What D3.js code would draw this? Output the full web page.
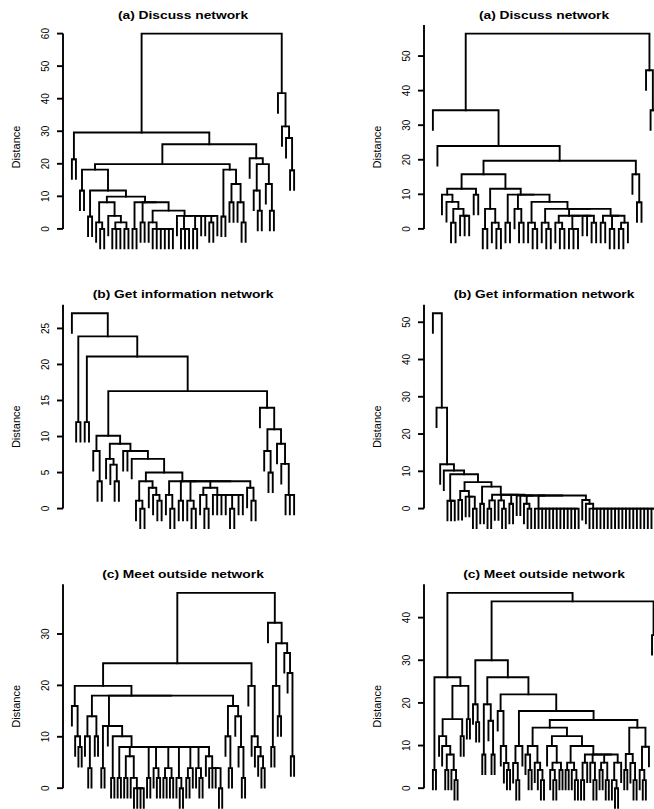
<!DOCTYPE html>
<html><head><meta charset="utf-8">
<script src="https://cdn.jsdelivr.net/npm/d3@7"></script>
<style>
body{margin:0;background:#fff}
svg{display:block}
text{font-family:"Liberation Sans",Arial,Helvetica,sans-serif;fill:#000}
</style>
</head><body>
<svg id="chart" width="654" height="809"></svg>
<script>
// ---- DATA: dendrograms as nested arrays [mergeHeight, child, child, ...]
// a child that is a number k stands for k single leaves
const titles = ["(a) Discuss network", "(a) Discuss network",
                "(b) Get information network", "(b) Get information network",
                "(c) Meet outside network", "(c) Meet outside network"];
const yLabel = "Distance";

const discussL_core = [9.9, [8.2, [2, 1, [0, 2]], [4, 1, [2, [0, 3], [0, 2]]]],
                            [8.2, [0, 2], [2, 2], [5.6, [2, 1, [0, 6]], [4, 1, [0, 3], [0, 2], 1, 1, [2, 2], 1]]]];
const discussL = [60,
  [29.6, [21.4, 2],
    [26,
      [19.9, [18.2, [11.8, 2], [11.8, [3.8, 2], discussL_core]],
             [18.2, [3.8, 2], [13.8, [8.2, 2], [8.2, 1, [2, 2]]]]],
      [21.7, 1, [19.9, [11.8, 1, [5.6, 2]], [13.8, 1, [5.6, 2]]]]]],
  [41.7, 1, [31.5, 1, [27.9, 1, [18, 2]]]]];

const discussR_A1 = [11.6, [9.9, 1, [7.8, 1, [5.8, [1.8, 2], [3.8, 3]]]], [9.9, 2]];
const discussR_C = [5.8, [1.8, 1, [0, 2]], [3.8, [1.8, 1, [0, 2]], [0, 3], 1, 1, [1.8, 2]],
                         [3.8, [1.8, 2], [0, 2], [1.8, [0, 2], 1]]];
const discussR_A2 = [11.6, [5.8, [0, 2], [1.8, 1, [0, 2]]],
                           [9.9, [1.8, 2], [5.8, 1, [1.8, 2]], [7.8, [1.8, 1, [0, 2]], discussR_C]]];
const discussR = [56.5,
  [34.3, 1, [24, 1, [19.7, [15.8, discussR_A1, discussR_A2], [15.8, 1, [7.7, 2]]]]],
  [45.9, 1, [34.3, 1, 1]]];

const infoL_L38 = [3.8, [1.1, 1, [0, 2]], [2.9, 1, [1.9, 1, [1.1, 2]]]];
const infoL_R38 = [3.8, [1.9, 1, [0, 2]], [1.1, 2], [1.1, 1, [0, 2]],
                        [2.9, [1.9, 1, [0, 2]], [1.9, 1, 1, 1, 1, [0, 2], 1, 1]], [2.9, 1, [1.1, 2]]];
const infoL = [27.1, 1, [23.9, [12, 2], [21.1, [12, 2], [16.3,
  [10.1, [8, 1, [3.8, 2]], [9, [6.9, 1, [6.1, 1, [3.8, 2]]], [8, 1, 1, [6.9, 1, [5, infoL_L38, infoL_R38]]]]],
  [14, 1, [11, [8, 1, [5, 2]], [9, 1, [6.2, 1, [1.9, 3]]]]]]]]];

const infoR_N35 = [3.5, 1, 1, [1.3, 1, [0, 2]], [0, 13], [2.3, 1, [1.3, 1, [0, 19]]]];
const infoR_T = [3.7, [2.2, [0, 2], 1], [2.2, 1, [0, 2]], [1.3, 2], infoR_N35];
const infoR = [52.4, 1, [27.1, 1, [11.9, 1, [10.2, 1, [9.2, [2.1, 3],
  [7.1, [4.7, [2.3, 2], [3.2, 1, 1, [0, 2]]], [5.9, [1.3, 2], infoR_T]]]]]]];

const meetL_N8 = [8, [2, 2], [6.2, [2, 2], [2, 1, [0, 4]]], [2, 2], [3.9, 1, [2, 2]], [3.9, [2, 2], [2, 2]],
                     [2, 1, [0, 2]], [3.9, [2, 2], 1], [3.9, 1, [2, 2]], [6.2, 1, [3.9, 1, 1, 1, [0, 2]]]];
const meetL = [38,
  [24.3,
    [19.9, [16, 1, [10.1, 1, [8, 2]]],
           [18, [14, [10.1, 1, [3.9, 2]], [10.1, 2]],
                [12.1, [3.9, 2], 1, [10.1, [2, 2], meetL_N8]],
                [16, [10.1, 1, [3.9, 2]], [14, 1, [8, 1, [2, 2]]]]]],
    [19.9, 1, [10.1, 1, [8, 1, [6.2, 1, [3.9, 2]]]]]],
  [32.2, 1, [28.2, [19.9, [8, 2], [14, 2]], [26.3, 1, [22.4, 1, [6.2, 2]]]]]];

const meetR_N14a = [14.2,
  [9.9, [7.9, 1, [4.3, 2]], [6, 1, [4.3, 1, [1.9, 2]]]],
  [12.2, [9.9, 1, [6, [4.3, 1, [1.9, 2]], [4.3, 2]]],
         [9.9, [6, [4.3, 2], [4.3, 1, [1.9, 2]]],
               [7.9, [6, [1.9, 2], 1], [6, 1, [1.9, 2]], [6, [4.3, 2], [1.9, 2]], [6, [1.9, 1, [0, 2]], 1]]]]];
const meetR_N14b = [14.2, [8, [4.3, 2], [5.9, 1, [1.9, 2]]], [9.7, [4.3, 1, [1.9, 2]], 1]];
const meetR = [45.8,
  [26, [4.3, 2], [24, [16.2, [12.2, 1, [9.9, 1, [7.9, [4.3, 2], [4.3, 1, [1.9, 2]]]]], [12.2, 2]], [16.2, 2]]],
  [43.8,
    [30, [19.7, 1, [15.5, 2]],
         [26, [19.7, [7.9, 2], [15.8, 1, [7.9, 2]]],
              [22, [18.1, 1, [9.9, 1, [5.9, 1, [4.3, 2]]]],
                   [18.1, [9.9, [5.9, 1, [1.9, 2]], 1], [16, meetR_N14a, meetR_N14b]]]]],
    [35.9, 1, 1]]];

const trees = [discussL, discussR, infoL, infoR, meetL, meetR];

// ---- LAYOUT
const colX = [63, 424], rowTop = [0, 279.7, 559.3];
const plotW = 240, plotTop = 25, plotBot = 257;
const svg = d3.select("#chart");

function build(arr) {
  const h = arr[0], items = [];
  arr.slice(1).forEach(c => {
    if (Array.isArray(c)) items.push(build(c));
    else for (let i = 0; i < c; i++) items.push({leaf: true});
  });
  function chain(list) {
    if (list.length === 1) return list[0];
    return {h, kids: [list[0], chain(list.slice(1))]};
  }
  return chain(items);
}

trees.forEach((arr, p) => {
  const root = build(arr);
  let n = 0;
  (function assign(node) {
    if (node.leaf) { node.i = ++n; return; }
    node.kids.forEach(assign);
    node.i = (node.kids[0].i + node.kids[1].i) / 2;
  })(root);
  const Hmax = root.h, hang = 0.1 * Hmax;
  const x0 = colX[p % 2], top = rowTop[Math.floor(p / 2)];
  const pad = 0.04 * (n - 1);
  const x = d3.scaleLinear().domain([1 - pad, n + pad]).range([x0, x0 + plotW]);
  const span = Hmax + hang;
  const lo = -hang - 0.04 * span, hi = Hmax + 0.04 * span;
  const y = d3.scaleLinear().domain([lo, hi]).range([top + plotBot, top + plotTop]);

  const g = svg.append("g");
  const merges = [];
  (function walk(node) {
    if (node.leaf) return;
    const [a, b] = node.kids;
    merges.push({a, b, h: node.h,
      ya: a.leaf ? node.h - hang : a.h, yb: b.leaf ? node.h - hang : b.h});
    walk(a); walk(b);
  })(root);
  g.selectAll("path.m").data(merges).join("path")
    .attr("fill", "none").attr("stroke", "#000").attr("stroke-width", 1.9)
    .attr("stroke-linecap", "square")
    .attr("d", d => `M${x(d.a.i)},${y(d.ya)}V${y(d.h)}H${x(d.b.i)}V${y(d.yb)}`);

  // axis
  const ticks = d3.scaleLinear().domain([0, Hmax]).nice(5).ticks(5).filter(t => t <= hi);
  const ax = svg.append("g");
  ax.append("line").attr("x1", x0).attr("x2", x0)
    .attr("y1", y(0)).attr("y2", y(Math.min(d3.scaleLinear().domain([0, Hmax]).nice(5).domain()[1], hi)))
    .attr("stroke", "#000").attr("stroke-width", 1.9);
  ax.selectAll("line.t").data(ticks).join("line")
    .attr("x1", x0).attr("x2", x0 - 6).attr("y1", d => y(d)).attr("y2", d => y(d))
    .attr("stroke", "#000").attr("stroke-width", 1.9);
  ax.selectAll("text").data(ticks).join("text")
    .attr("transform", d => `translate(${x0 - 14},${y(d)}) rotate(-90)`)
    .attr("text-anchor", "middle").attr("font-size", 10).text(d => d);

  svg.append("text")
    .attr("transform", `translate(${x0 - 43},${top + 147}) rotate(-90)`)
    .attr("text-anchor", "middle").attr("font-size", 11).text(yLabel);

  svg.append("text")
    .attr("transform", `translate(${x0 + plotW / 2},${top + 18.5}) scale(1.2,1)`)
    .attr("text-anchor", "middle").attr("font-size", 11.5).attr("font-weight", "bold")
    .text(titles[p]);
});
</script>
</body></html>
